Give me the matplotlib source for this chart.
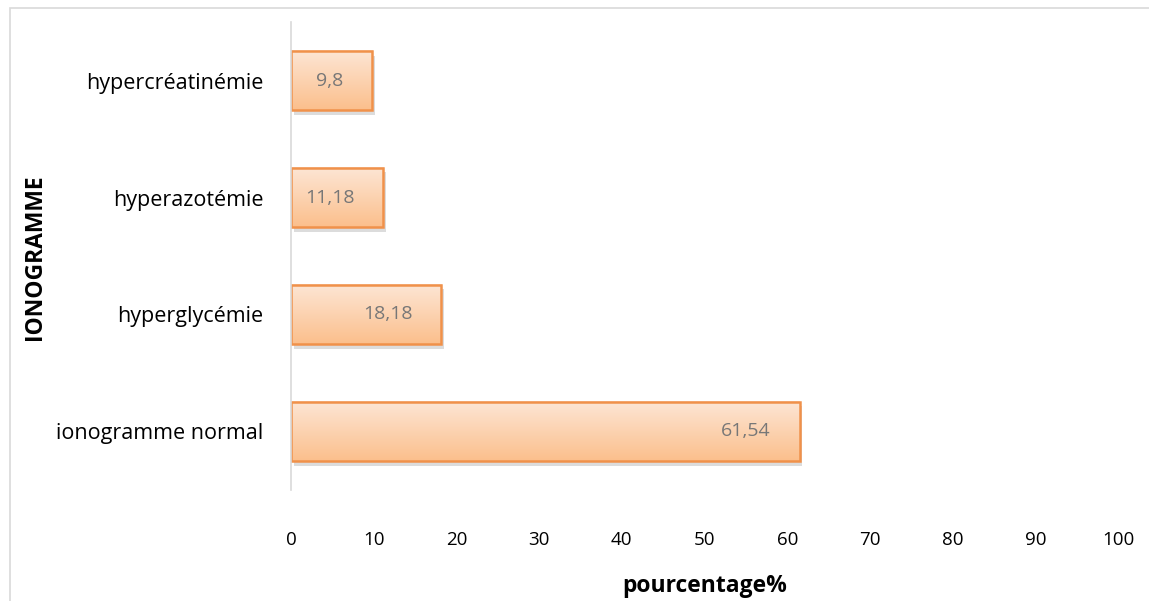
import numpy as np
import matplotlib.pyplot as plt
from matplotlib.patches import Rectangle
from matplotlib.colors import LinearSegmentedColormap

categories = ["ionogramme normal", "hyperglycémie", "hyperazotémie", "hypercréatinémie"]
values = [61.54, 18.18, 11.18, 9.8]
value_labels = ["61,54", "18,18", "11,18", "9,8"]
xticks = [0, 10, 20, 30, 40, 50, 60, 70, 80, 90, 100]

plt.rcParams['font.family'] = ['Open Sans', 'DejaVu Sans']

fig = plt.figure(figsize=(11.49, 6.01), dpi=100)
ax = fig.add_axes([0.2533, 0.185, 0.7197, 0.778])

# cadre gris autour du graphique
fig.patches.append(Rectangle((10 / 1149, -0.01), 1.0, 1 - 8 / 601 + 0.01,
                             transform=fig.transFigure, fill=False,
                             edgecolor='#d9d9d9', linewidth=1.2))

cmap = LinearSegmentedColormap.from_list("grad", ["#fbbf8c", "#fde6d5"])
grad = np.linspace(0, 1, 256).reshape(-1, 1)

y = np.arange(len(categories))
h = 0.51
bars = ax.barh(y, values, height=h, color='none', edgecolor='#f0914a', linewidth=1.8, zorder=3)
for b, lab in zip(bars, value_labels):
    x0, y0 = b.get_x(), b.get_y()
    w, hh = b.get_width(), b.get_height()
    # ombre
    ax.add_patch(Rectangle((x0 + 0.3, y0 - 0.04), w, hh, facecolor='#bbbbbb',
                           edgecolor='none', alpha=0.5, zorder=1))
    ax.imshow(grad, extent=(x0, x0 + w, y0, y0 + hh), origin='lower', cmap=cmap,
              aspect='auto', zorder=2)
    ax.annotate(lab, (x0 + w, y0 + hh / 2), xytext=(-21, 0), textcoords='offset points',
                ha='right', va='center', color='#777777', fontsize=14, zorder=4)

ax.set_xlim(0, 100)
ax.set_ylim(-0.5, 3.5)
ax.set_xticks(xticks)
ax.set_xticklabels([str(t) for t in xticks], fontsize=13.5)
ax.set_yticks(y)
ax.set_yticklabels(categories, fontsize=15.5)
ax.tick_params(axis='both', length=0)
ax.tick_params(axis='y', pad=20)
ax.tick_params(axis='x', pad=30)
for s in ['top', 'right', 'bottom']:
    ax.spines[s].set_visible(False)
ax.spines['left'].set_color('#d9d9d9')
ax.spines['left'].set_linewidth(1.2)
ax.spines['left'].set_zorder(5)

ax.set_xlabel("pourcentage%", fontsize=16.5, fontweight='bold', labelpad=18)
fig.text(35 / 1149, 1 - 257 / 601, "IONOGRAMME", rotation=90, fontsize=16.5,
         fontweight='bold', ha='center', va='center')

fig.savefig("out.png", dpi=100)
